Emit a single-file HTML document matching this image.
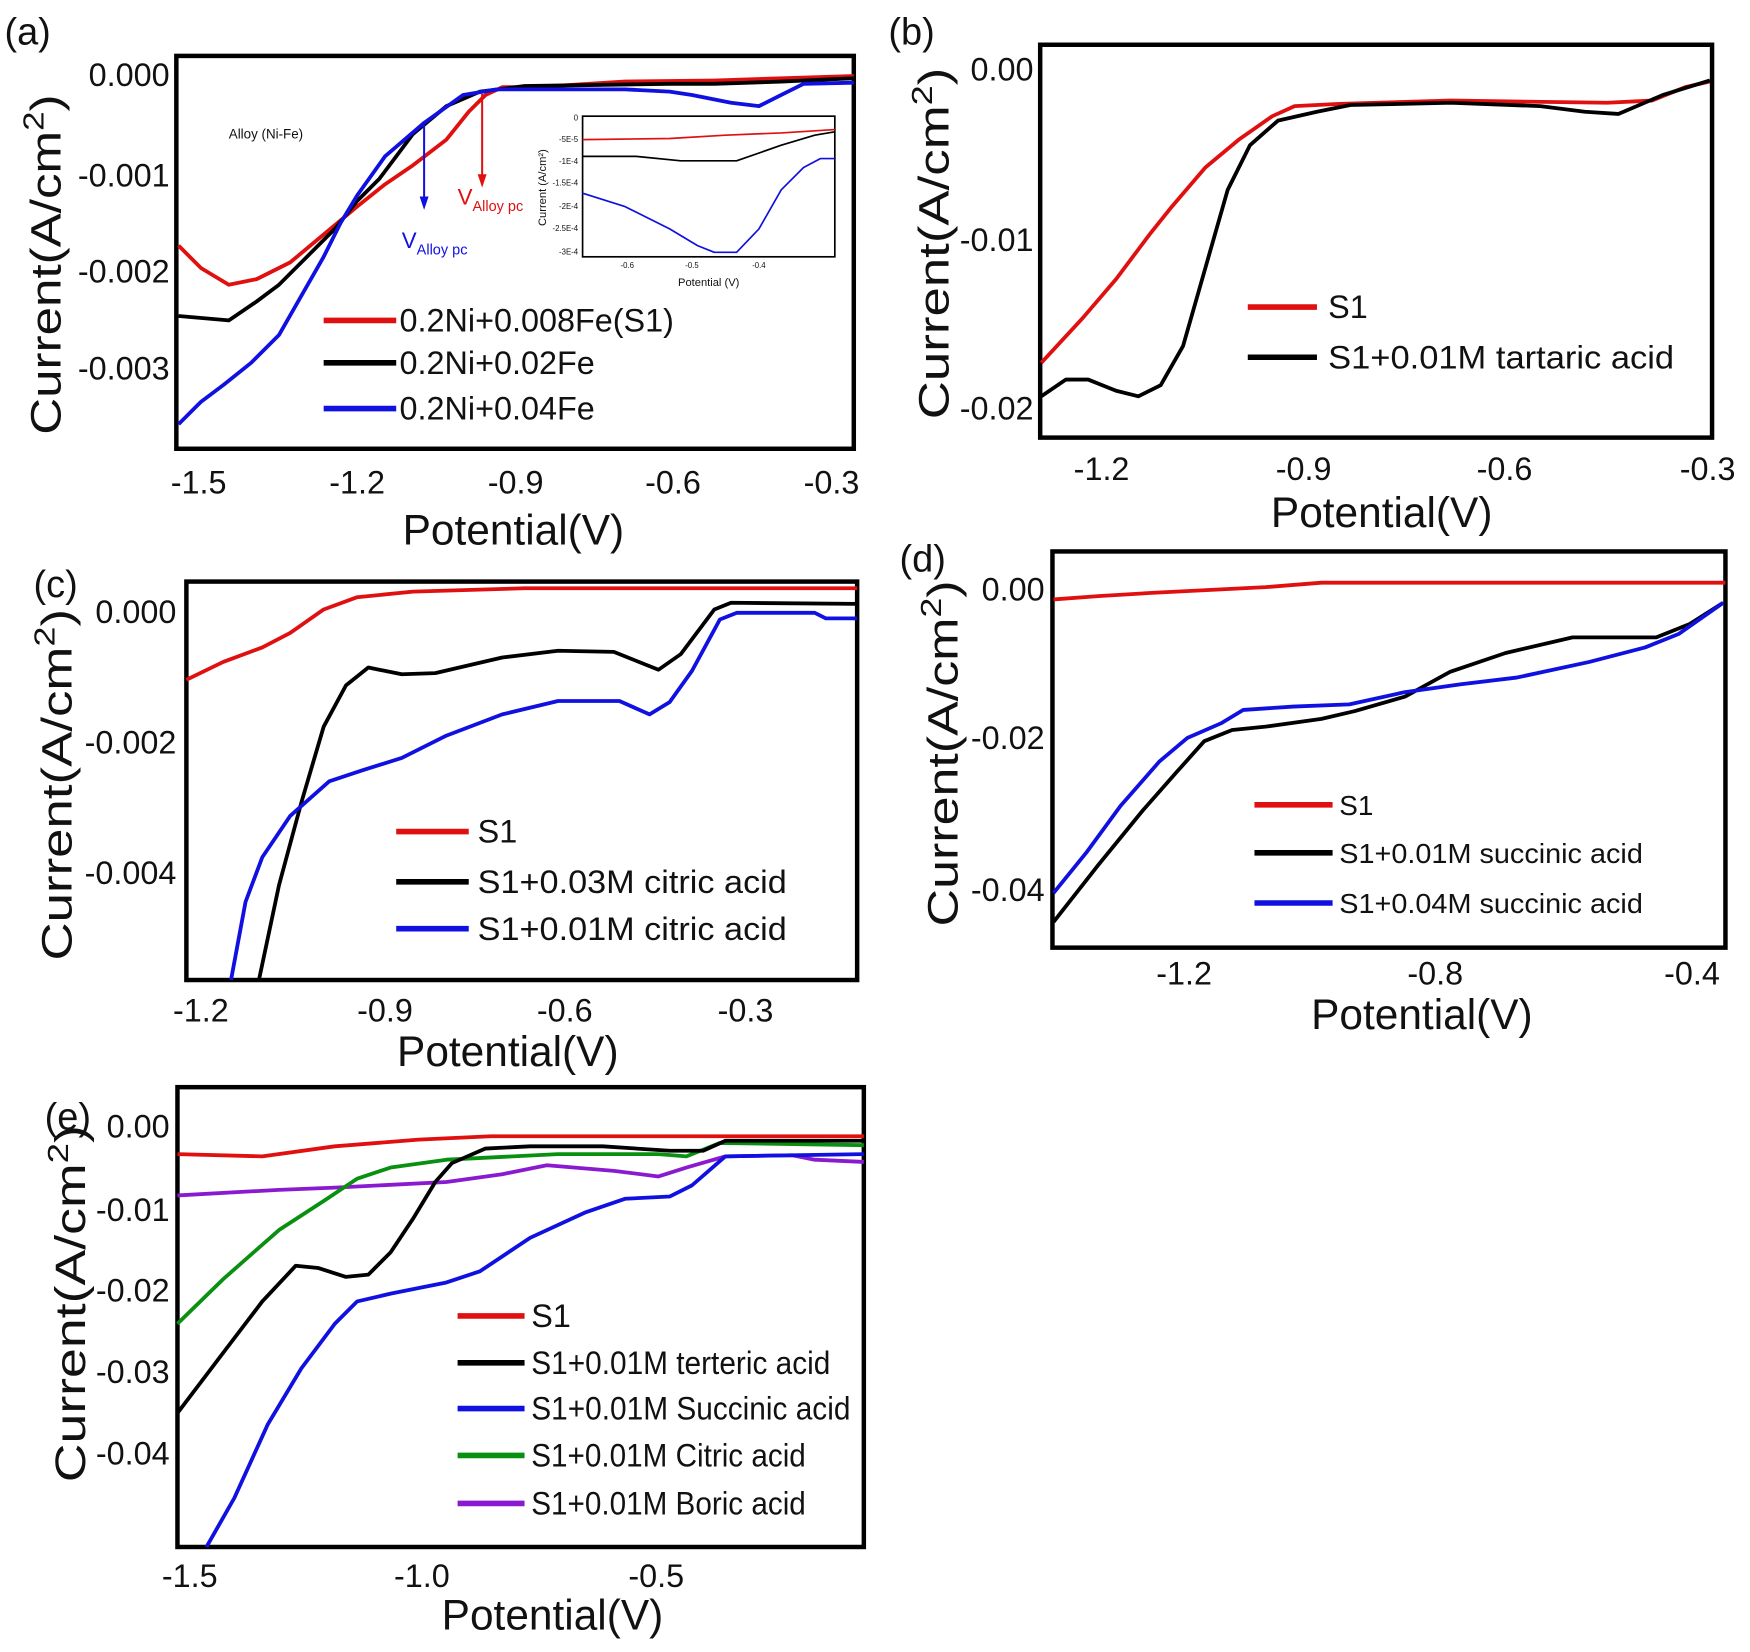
<!DOCTYPE html>
<html><head><meta charset="utf-8"><style>
html,body{margin:0;padding:0;background:#fff}
svg{display:block}
text{font-family:"Liberation Sans Narrow","Liberation Sans",sans-serif;fill:#111}
.t{font-size:29px}
.ax{font-size:38px}
.lg{font-size:29px}
.ls{font-size:25px}
.pl{font-size:34px}
polyline{fill:none;stroke-width:3.4;stroke-linejoin:round}
.bx{fill:none;stroke:#000;stroke-width:4}
</style></head><body>
<svg width="1750" height="1652" viewBox="0 0 1568 1480" xmlns="http://www.w3.org/2000/svg">
<rect width="1568" height="1480" fill="#fff"/>

<!-- Panel a -->
<text class="pl" x="4" y="40">(a)</text>
<rect class="bx" x="158" y="50" width="607" height="352"/>
<g class="t" text-anchor="end">
<text x="152" y="77">0.000</text><text x="152" y="167">-0.001</text><text x="152" y="253">-0.002</text><text x="152" y="340">-0.003</text></g>
<g class="t" text-anchor="middle">
<text x="178" y="442">-1.5</text><text x="320" y="442">-1.2</text><text x="462" y="442">-0.9</text><text x="603" y="442">-0.6</text><text x="745" y="442">-0.3</text></g>
<text class="ax" x="460" y="488" text-anchor="middle">Potential(V)</text>
<text class="ax" transform="translate(54,237) rotate(-90)" text-anchor="middle" textLength="305" lengthAdjust="spacingAndGlyphs">Current(A/cm<tspan font-size="26" dy="-15">2</tspan><tspan dy="15">)</tspan></text>
<text x="205" y="124" font-size="12">Alloy (Ni-Fe)</text>
<polyline stroke="#e01010" points="160,220 180,240 205,255 230,250 260,235 290,210 320,185 345,165 370,148 400,125 420,100 435,85 450,78 480,78 560,73 640,72 765,68"/>
<polyline stroke="#000" points="160,283 205,287 230,270 250,255 275,230 300,205 320,180 340,160 355,140 370,120 400,95 430,82 470,77 600,75 640,75 700,73 765,70"/>
<polyline stroke="#1010e0" points="160,380 180,360 200,345 225,325 250,300 270,265 290,230 305,200 320,175 345,140 380,110 415,85 445,80 560,80 600,82 620,85 655,92 680,95 700,85 720,75 765,74"/>
<line x1="380" y1="112" x2="380" y2="178" stroke="#1010e0" stroke-width="1.8"/><polygon points="376,176 384,176 380,188" fill="#1010e0"/>
<line x1="432" y1="84" x2="432" y2="158" stroke="#e01010" stroke-width="1.8"/><polygon points="428,156 436,156 432,168" fill="#e01010"/>
<text x="410" y="183" font-size="20" style="fill:#e01010">V<tspan font-size="13" dy="6">Alloy pc</tspan></text>
<text x="360" y="222" font-size="20" style="fill:#1010e0">V<tspan font-size="13" dy="6">Alloy pc</tspan></text>
<!-- inset -->
<rect x="522" y="104" width="226" height="126" fill="none" stroke="#000" stroke-width="1.5"/>
<g font-size="7" text-anchor="end"><text x="518" y="108">0</text><text x="518" y="127">-5E-5</text><text x="518" y="147">-1E-4</text><text x="518" y="166">-1.5E-4</text><text x="518" y="187">-2E-4</text><text x="518" y="207">-2.5E-4</text><text x="518" y="228">-3E-4</text></g>
<g font-size="7" text-anchor="middle"><text x="562" y="240">-0.6</text><text x="620" y="240">-0.5</text><text x="680" y="240">-0.4</text></g>
<text x="635" y="256" font-size="10" text-anchor="middle">Potential (V)</text>
<text transform="translate(489,168) rotate(-90)" font-size="10" text-anchor="middle">Current (A/cm²)</text>
<polyline style="stroke-width:1.5" stroke="#e01010" points="522,125 600,124 650,121 700,119 748,116"/>
<polyline style="stroke-width:1.5" stroke="#000" points="522,140 570,140 610,144 660,144 700,130 730,121 748,118"/>
<polyline style="stroke-width:1.5" stroke="#1010e0" points="522,173 560,185 600,205 625,220 640,226 660,226 680,205 700,170 720,150 735,142 748,142"/>
<line x1="290" y1="287" x2="355" y2="287" stroke="#e01010" stroke-width="5"/>
<line x1="290" y1="325" x2="355" y2="325" stroke="#000" stroke-width="5"/>
<line x1="290" y1="366" x2="355" y2="366" stroke="#1010e0" stroke-width="5"/>
<g class="lg"><text x="358" y="297">0.2Ni+0.008Fe(S1)</text><text x="358" y="335">0.2Ni+0.02Fe</text><text x="358" y="376">0.2Ni+0.04Fe</text></g>

<!-- Panel b -->
<text class="pl" x="796" y="40">(b)</text>
<rect class="bx" x="932" y="40" width="602" height="352"/>
<g class="t" text-anchor="end"><text x="926" y="72">0.00</text><text x="926" y="225">-0.01</text><text x="926" y="376">-0.02</text></g>
<g class="t" text-anchor="middle"><text x="987" y="430">-1.2</text><text x="1168" y="430">-0.9</text><text x="1348" y="430">-0.6</text><text x="1530" y="430">-0.3</text></g>
<text class="ax" x="1238" y="472" text-anchor="middle">Potential(V)</text>
<text class="ax" transform="translate(850,218) rotate(-90)" text-anchor="middle" textLength="315" lengthAdjust="spacingAndGlyphs">Current(A/cm<tspan font-size="26" dy="-15">2</tspan><tspan dy="15">)</tspan></text>
<polyline stroke="#e01010" points="933,325 970,285 1000,250 1030,210 1050,185 1080,150 1110,125 1140,104 1160,95 1200,93 1300,90 1440,92 1480,90 1510,78 1532,73"/>
<polyline stroke="#000" points="933,355 955,340 975,340 1000,350 1020,355 1040,345 1060,310 1080,240 1100,170 1120,130 1145,108 1180,100 1210,94 1300,92 1380,95 1420,100 1450,102 1490,85 1532,72"/>
<line x1="1118" y1="275" x2="1180" y2="275" stroke="#e01010" stroke-width="5"/>
<line x1="1118" y1="320" x2="1180" y2="320" stroke="#000" stroke-width="5"/>
<g class="lg"><text x="1190" y="285">S1</text><text x="1190" y="330" textLength="310" lengthAdjust="spacingAndGlyphs">S1+0.01M tartaric acid</text></g>

<!-- Panel c -->
<text class="pl" x="30" y="535">(c)</text>
<rect class="bx" x="167" y="521" width="601" height="357"/>
<g class="t" text-anchor="end"><text x="158" y="558">0.000</text><text x="158" y="675">-0.002</text><text x="158" y="792">-0.004</text></g>
<g class="t" text-anchor="middle"><text x="180" y="915">-1.2</text><text x="345" y="915">-0.9</text><text x="506" y="915">-0.6</text><text x="668" y="915">-0.3</text></g>
<text class="ax" x="455" y="955" text-anchor="middle">Potential(V)</text>
<text class="ax" transform="translate(64,703) rotate(-90)" text-anchor="middle" textLength="315" lengthAdjust="spacingAndGlyphs">Current(A/cm<tspan font-size="26" dy="-15">2</tspan><tspan dy="15">)</tspan></text>
<polyline stroke="#e01010" points="167,609 200,593 235,580 260,567 290,546 320,535 370,530 470,527 768,527"/>
<polyline stroke="#000" points="232,878 250,793 270,719 290,651 310,614 330,598 360,604 390,603 450,589 500,583 550,584 590,600 610,586 640,546 655,540 768,541"/>
<polyline stroke="#1010e0" points="207,878 220,808 235,768 260,731 295,700 325,690 360,679 400,659 450,640 500,628 555,628 582,640 600,629 620,601 645,555 660,549 730,549 740,554 768,554"/>
<line x1="355" y1="745" x2="420" y2="745" stroke="#e01010" stroke-width="5"/>
<line x1="355" y1="790" x2="420" y2="790" stroke="#000" stroke-width="5"/>
<line x1="355" y1="832" x2="420" y2="832" stroke="#1010e0" stroke-width="5"/>
<g class="lg"><text x="428" y="755">S1</text><text x="428" y="800" textLength="277" lengthAdjust="spacingAndGlyphs">S1+0.03M citric acid</text><text x="428" y="842" textLength="277" lengthAdjust="spacingAndGlyphs">S1+0.01M citric acid</text></g>

<!-- Panel d -->
<text class="pl" x="806" y="512">(d)</text>
<rect class="bx" x="943" y="494" width="603" height="355"/>
<g class="t" text-anchor="end"><text x="936" y="538">0.00</text><text x="936" y="671">-0.02</text><text x="936" y="807">-0.04</text></g>
<g class="t" text-anchor="middle"><text x="1061" y="882">-1.2</text><text x="1286" y="882">-0.8</text><text x="1516" y="882">-0.4</text></g>
<text class="ax" x="1274" y="922" text-anchor="middle">Potential(V)</text>
<text class="ax" transform="translate(858,675) rotate(-90)" text-anchor="middle" textLength="310" lengthAdjust="spacingAndGlyphs">Current(A/cm<tspan font-size="26" dy="-15">2</tspan><tspan dy="15">)</tspan></text>
<polyline stroke="#e01010" points="944,537 984,534 1034,531 1134,526 1184,522 1546,522"/>
<polyline stroke="#000" points="944,826 984,775 1024,726 1054,692 1079,664 1104,654 1134,651 1184,644 1214,637 1259,624 1299,602 1349,585 1409,571 1484,571 1514,559 1544,540"/>
<polyline stroke="#1010e0" points="944,800 974,763 1004,722 1039,682 1064,661 1094,648 1114,636 1159,633 1209,631 1259,620 1309,613 1359,607 1424,593 1474,580 1504,568 1544,540"/>
<line x1="1124" y1="721" x2="1194" y2="721" stroke="#e01010" stroke-width="5"/>
<line x1="1124" y1="764" x2="1194" y2="764" stroke="#000" stroke-width="5"/>
<line x1="1124" y1="809" x2="1194" y2="809" stroke="#1010e0" stroke-width="5"/>
<g class="ls"><text x="1200" y="730">S1</text><text x="1200" y="773" textLength="272" lengthAdjust="spacingAndGlyphs">S1+0.01M succinic acid</text><text x="1200" y="818" textLength="272" lengthAdjust="spacingAndGlyphs">S1+0.04M succinic acid</text></g>

<!-- Panel e -->
<text class="pl" x="40" y="1012">(e)</text>
<rect class="bx" x="159" y="974" width="615" height="412"/>
<g class="t" text-anchor="end"><text x="152" y="1019">0.00</text><text x="152" y="1094">-0.01</text><text x="152" y="1166">-0.02</text><text x="152" y="1239">-0.03</text><text x="152" y="1312">-0.04</text></g>
<g class="t" text-anchor="middle"><text x="170" y="1422">-1.5</text><text x="378" y="1422">-1.0</text><text x="588" y="1422">-0.5</text></g>
<text class="ax" x="495" y="1460" text-anchor="middle">Potential(V)</text>
<text class="ax" transform="translate(76,1168) rotate(-90)" text-anchor="middle" textLength="320" lengthAdjust="spacingAndGlyphs">Current(A/cm<tspan font-size="26" dy="-15">2</tspan><tspan dy="15">)</tspan></text>
<polyline stroke="#e01010" points="159,1034 235,1036 300,1027 375,1021 440,1018 774,1018"/>
<polyline stroke="#8a1ad0" points="159,1071 250,1066 300,1064 400,1059 450,1052 490,1044 550,1049 590,1054 615,1046 650,1036 710,1035 730,1039 774,1041"/>
<polyline stroke="#0a9010" points="159,1186 200,1146 250,1102 290,1076 320,1056 350,1046 400,1039 500,1034 590,1034 615,1036 645,1024 774,1026"/>
<polyline stroke="#000" points="159,1266 200,1212 235,1166 265,1134 285,1136 310,1144 330,1142 350,1122 370,1092 390,1059 405,1042 435,1029 475,1027 540,1027 600,1031 630,1031 650,1022 774,1022"/>
<polyline stroke="#1010e0" points="185,1386 210,1342 240,1276 270,1226 300,1186 320,1166 350,1159 400,1149 430,1139 475,1109 525,1086 560,1074 600,1072 620,1062 650,1036 774,1034"/>
<line x1="410" y1="1179" x2="470" y2="1179" stroke="#e01010" stroke-width="5"/>
<line x1="410" y1="1221" x2="470" y2="1221" stroke="#000" stroke-width="5"/>
<line x1="410" y1="1262" x2="470" y2="1262" stroke="#1010e0" stroke-width="5"/>
<line x1="410" y1="1304" x2="470" y2="1304" stroke="#0a9010" stroke-width="5"/>
<line x1="410" y1="1347" x2="470" y2="1347" stroke="#8a1ad0" stroke-width="5"/>
<g class="lg"><text x="476" y="1189">S1</text><text x="476" y="1231" textLength="268" lengthAdjust="spacingAndGlyphs">S1+0.01M terteric acid</text><text x="476" y="1272" textLength="286" lengthAdjust="spacingAndGlyphs">S1+0.01M Succinic acid</text><text x="476" y="1314" textLength="246" lengthAdjust="spacingAndGlyphs">S1+0.01M Citric acid</text><text x="476" y="1357" textLength="246" lengthAdjust="spacingAndGlyphs">S1+0.01M Boric acid</text></g>
</svg>
</body></html>
